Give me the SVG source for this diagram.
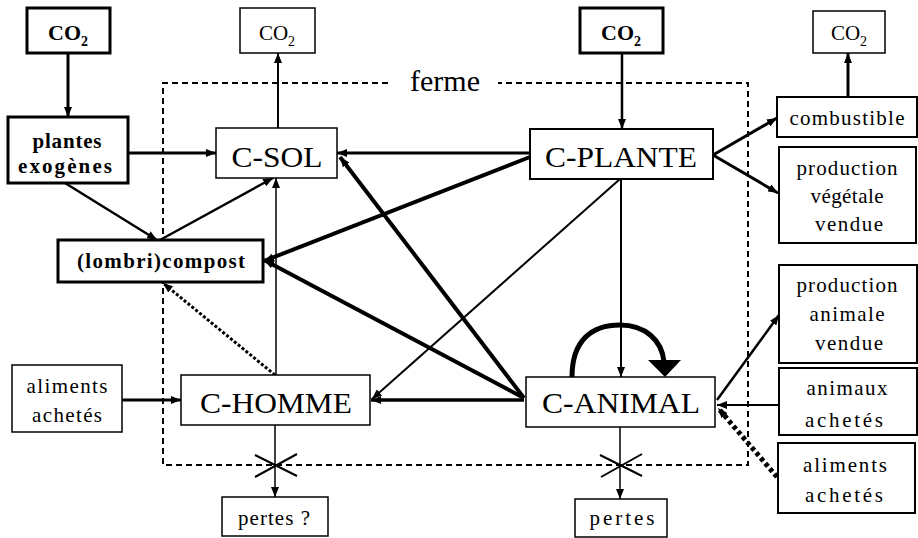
<svg xmlns="http://www.w3.org/2000/svg" width="918" height="538" viewBox="0 0 918 538" font-family="'Liberation Serif', 'Times New Roman', serif">
<style>
.box{fill:#fff;stroke:#000;stroke-width:1.5}
.thick{fill:#fff;stroke:#000;stroke-width:3}
.mid{fill:#fff;stroke:#000;stroke-width:2}
text{font-family:'Liberation Serif', 'Times New Roman', serif;fill:#000;text-anchor:middle}
.big{font-size:29px}
.sm{font-size:21px}
.bold{font-weight:bold}
.ln{stroke:#000;fill:none}
</style>
<defs>
<marker id="ah" markerUnits="userSpaceOnUse" viewBox="0 0 10 8" markerWidth="10" markerHeight="8" refX="10" refY="4" orient="auto">
<path d="M0,0 L10,4 L0,8 z" fill="#000"/>
</marker>
</defs>
<rect width="918" height="538" fill="#fff"/>
<g id="ferme-frame">
<path d="M388,83 H163 V465 H748 V83 H498" fill="none" stroke="#000" stroke-width="2" stroke-dasharray="6 4"/>
<text x="445" y="91" font-family="Liberation Serif" style="font-size:30px">ferme</text>
</g>
<g id="connectors" class="ln">
<line x1="68" y1="53" x2="68" y2="117" stroke-width="3" marker-end="url(#ah)"/>
<line x1="128" y1="153" x2="216" y2="153" stroke-width="3" marker-end="url(#ah)"/>
<line x1="65" y1="183" x2="157" y2="240" stroke-width="2.5" marker-end="url(#ah)"/>
<line x1="160" y1="240" x2="273" y2="178" stroke-width="2.5" marker-end="url(#ah)"/>
<line x1="278" y1="128" x2="278" y2="53" stroke-width="2" marker-end="url(#ah)"/>
<line x1="276" y1="375" x2="276" y2="178" stroke-width="1.5" marker-end="url(#ah)"/>
<line x1="275" y1="375" x2="163" y2="283" stroke-width="3" stroke-dasharray="3 2" marker-end="url(#ah)"/>
<line x1="530" y1="153" x2="337" y2="153" stroke-width="3" marker-end="url(#ah)"/>
<line x1="530" y1="157" x2="264" y2="261" stroke-width="4" marker-end="url(#ah)"/>
<line x1="524" y1="398" x2="264" y2="260" stroke-width="4" marker-end="url(#ah)"/>
<line x1="524" y1="398" x2="340" y2="157" stroke-width="4" marker-end="url(#ah)"/>
<line x1="620" y1="179" x2="372" y2="399" stroke-width="2" marker-end="url(#ah)"/>
<line x1="524" y1="400" x2="371" y2="400" stroke-width="3.5" marker-end="url(#ah)"/>
<line x1="622" y1="53" x2="622" y2="129" stroke-width="2.5" marker-end="url(#ah)"/>
<line x1="621" y1="179" x2="621" y2="377" stroke-width="2" marker-end="url(#ah)"/>
<line x1="713" y1="155" x2="777" y2="118" stroke-width="3" marker-end="url(#ah)"/>
<line x1="713" y1="155" x2="778" y2="193" stroke-width="3" marker-end="url(#ah)"/>
<line x1="848" y1="97" x2="848" y2="53" stroke-width="3" marker-end="url(#ah)"/>
<line x1="717" y1="400" x2="779" y2="315" stroke-width="2.5" marker-end="url(#ah)"/>
<line x1="780" y1="405" x2="717" y2="405" stroke-width="2" marker-end="url(#ah)"/>
<line x1="777" y1="477" x2="718" y2="408" stroke-width="5" stroke-dasharray="4 3" marker-end="url(#ah)"/>
<line x1="122" y1="400" x2="181" y2="400" stroke-width="3" marker-end="url(#ah)"/>
<line x1="275" y1="425" x2="275" y2="497" stroke-width="1.5" marker-end="url(#ah)"/>
<line x1="620" y1="427" x2="620" y2="499" stroke-width="1.5" marker-end="url(#ah)"/>
<path d="M572,377 C572,340 592,325 620,325 C645,325 662,340 664,362" stroke-width="5"/>
<path d="M648,360 L681,360 L665,377 z" fill="#000" stroke="none"/>
<path d="M255,455 L297,476 M255,477 L297,454" stroke-width="2"/>
<path d="M600,455 L642,476 M601,477 L642,454" stroke-width="2"/>
</g>
<g id="co2-1"><rect class="thick" x="27" y="8" width="83" height="45"/><text class="bold" x="68" y="40" style="font-size:22px">CO<tspan dy="6" style="font-size:14px">2</tspan></text></g>
<g id="co2-2"><rect class="box" x="240" y="8" width="75" height="45"/><text x="277" y="40" style="font-size:21px">CO<tspan dy="6" style="font-size:14px">2</tspan></text></g>
<g id="co2-3"><rect class="thick" x="580" y="8" width="83" height="45"/><text class="bold" x="621" y="40" style="font-size:22px">CO<tspan dy="6" style="font-size:14px">2</tspan></text></g>
<g id="co2-4"><rect class="box" x="813" y="11" width="72" height="42"/><text x="849" y="40" style="font-size:21px">CO<tspan dy="6" style="font-size:14px">2</tspan></text></g>
<g id="plantes-exogenes"><rect class="thick" x="8" y="117" width="120" height="66"/>
<text class="sm bold" x="67" y="148" textLength="69" lengthAdjust="spacing">plantes</text>
<text class="sm bold" x="65" y="173" textLength="94" lengthAdjust="spacing">exogènes</text></g>
<g id="c-sol"><rect class="box" x="216" y="128" width="121" height="50"/><text class="big" x="277" y="167" textLength="91" lengthAdjust="spacingAndGlyphs">C-SOL</text></g>
<g id="c-plante"><rect class="mid" x="530" y="129" width="183" height="50"/><text class="big" x="621" y="167" textLength="152" lengthAdjust="spacingAndGlyphs">C-PLANTE</text></g>
<g id="lombricompost"><rect class="thick" x="58" y="240" width="205" height="42"/><text class="sm bold" x="161" y="268" textLength="168" lengthAdjust="spacing">(lombri)compost</text></g>
<g id="c-homme"><rect class="box" x="181" y="375" width="189" height="50"/><text class="big" x="276" y="413" textLength="152" lengthAdjust="spacingAndGlyphs">C-HOMME</text></g>
<g id="c-animal"><rect class="box" x="526" y="377" width="189" height="50"/><text class="big" x="621" y="413" textLength="158" lengthAdjust="spacingAndGlyphs">C-ANIMAL</text></g>
<g id="aliments-achetes-1"><rect class="box" x="12" y="365" width="110" height="67"/>
<text class="sm" x="67" y="393" textLength="81" lengthAdjust="spacing">aliments</text>
<text class="sm" x="67" y="422" textLength="70" lengthAdjust="spacing">achetés</text></g>
<g id="combustible"><rect class="mid" x="777" y="97" width="140" height="40"/><text class="sm" x="847" y="125" textLength="115" lengthAdjust="spacing">combustible</text></g>
<g id="production-vegetale"><rect class="mid" x="779" y="147" width="137" height="96"/>
<text class="sm" x="847" y="175" textLength="101" lengthAdjust="spacing">production</text>
<text class="sm" x="847" y="203" textLength="73" lengthAdjust="spacing">végétale</text>
<text class="sm" x="849" y="231" textLength="68" lengthAdjust="spacing">vendue</text></g>
<g id="production-animale"><rect class="mid" x="779" y="265" width="138" height="98"/>
<text class="sm" x="847" y="292" textLength="101" lengthAdjust="spacing">production</text>
<text class="sm" x="847" y="321" textLength="75" lengthAdjust="spacing">animale</text>
<text class="sm" x="849" y="350" textLength="68" lengthAdjust="spacing">vendue</text></g>
<g id="animaux-achetes"><rect class="mid" x="779" y="368" width="138" height="67"/>
<text class="sm" x="847" y="395" textLength="81" lengthAdjust="spacing">animaux</text>
<text class="sm" x="844" y="427" textLength="78" lengthAdjust="spacing">achetés</text></g>
<g id="aliments-achetes-2"><rect class="mid" x="778" y="443" width="137" height="70"/>
<text class="sm" x="845" y="472" textLength="84" lengthAdjust="spacing">aliments</text>
<text class="sm" x="844" y="502" textLength="78" lengthAdjust="spacing">achetés</text></g>
<g id="pertes-1"><rect class="box" x="222" y="497" width="106" height="39"/><text class="sm" x="274" y="525" textLength="72" lengthAdjust="spacing">pertes ?</text></g>
<g id="pertes-2"><rect class="box" x="575" y="499" width="92" height="38"/><text class="sm" x="622" y="525" textLength="65" lengthAdjust="spacing">pertes</text></g>
</svg>
